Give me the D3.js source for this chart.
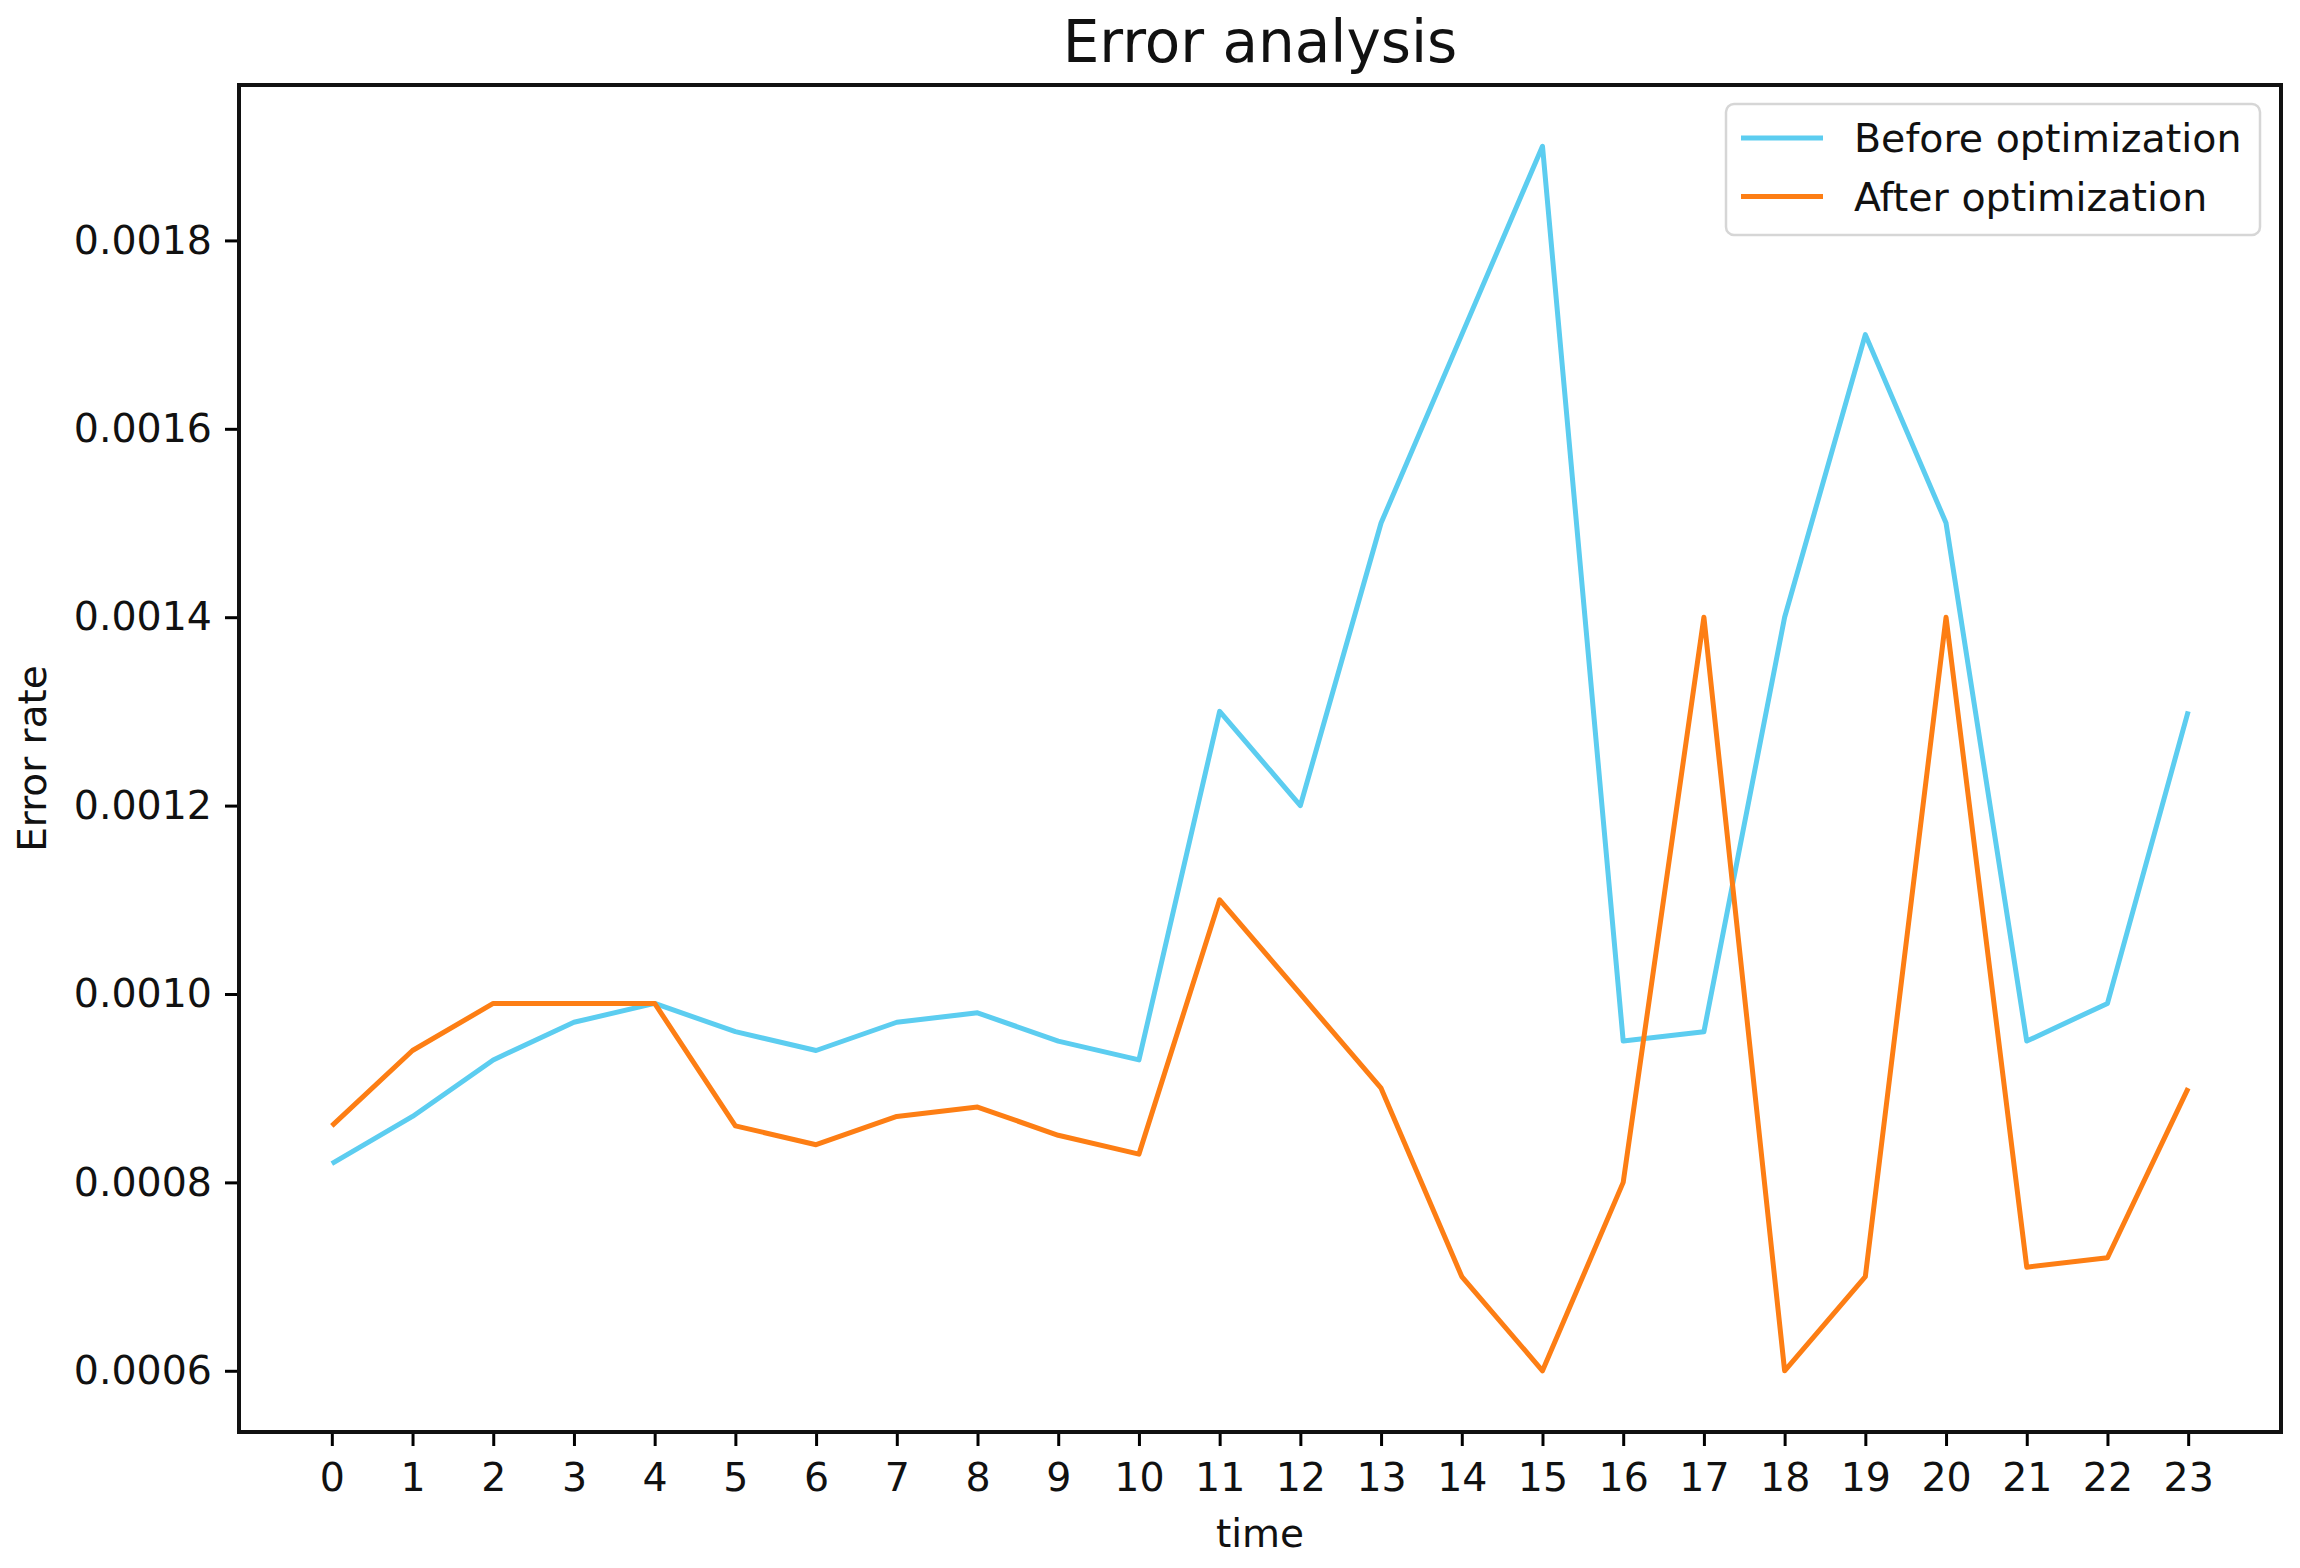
<!DOCTYPE html>
<html>
<head>
<meta charset="utf-8">
<script src="https://cdn.jsdelivr.net/npm/d3@7/dist/d3.min.js"></script>
<style>
  html, body { margin: 0; padding: 0; background: #fff; }
  svg { display: block; font-family: "DejaVu Sans", sans-serif; }
</style>
</head>
<body>
<svg></svg>
<script>
const width = 2300;
const height = 1568;

const hours = d3.range(0, 24);

const beforeValues = [
  0.00082, 0.00087, 0.00093, 0.00097, 0.00099, 0.00096, 0.00094, 0.00097,
  0.00098, 0.00095, 0.00093, 0.0013, 0.0012, 0.0015, 0.0017, 0.0019,
  0.00095, 0.00096, 0.0014, 0.0017, 0.0015, 0.00095, 0.00099, 0.0013
];

const afterValues = [
  0.00086, 0.00094, 0.00099, 0.00099, 0.00099, 0.00086, 0.00084, 0.00087,
  0.00088, 0.00085, 0.00083, 0.0011, 0.0010, 0.0009, 0.0007, 0.0006,
  0.0008, 0.0014, 0.0006, 0.0007, 0.0014, 0.00071, 0.00072, 0.0009
];

const yTicks = [0.0006, 0.0008, 0.0010, 0.0012, 0.0014, 0.0016, 0.0018];

const seriesNames = ["Before optimization", "After optimization"];
const seriesColors = ["#5ccdf0", "#fd7e14"];

const margin = {top: 85, right: 19, bottom: 136, left: 239};
const plotW = width - margin.left - margin.right;
const plotH = height - margin.top - margin.bottom;

const svg = d3.select("svg")
  .attr("width", width)
  .attr("height", height)
  .attr("viewBox", `0 0 ${width} ${height}`);

// matplotlib-style 5% margins
const x = d3.scaleLinear()
  .domain([-1.15, 24.15])
  .range([0, plotW]);

const y = d3.scaleLinear()
  .domain([0.000535, 0.001965])
  .range([plotH, 0]);

const g = svg.append("g")
  .attr("transform", `translate(${margin.left},${margin.top})`);

// lines
const line = d3.line()
  .x((d, i) => x(hours[i]))
  .y(d => y(d));

[beforeValues, afterValues].forEach((vals, k) => {
  g.append("path")
    .datum(vals)
    .attr("fill", "none")
    .attr("stroke", seriesColors[k])
    .attr("stroke-width", 5)
    .attr("stroke-linejoin", "round")
    .attr("d", line);
});

// axes
const xAxis = d3.axisBottom(x)
  .tickValues(hours)
  .tickFormat(d3.format("d"))
  .tickSize(14)
  .tickPadding(17);

const yAxis = d3.axisLeft(y)
  .tickValues(yTicks)
  .tickFormat(d3.format(".4f"))
  .tickSize(14)
  .tickPadding(13);

const gx = g.append("g")
  .attr("transform", `translate(0,${plotH})`)
  .call(xAxis);

const gy = g.append("g")
  .call(yAxis);

[gx, gy].forEach(ax => {
  ax.select(".domain").remove();
  ax.selectAll(".tick line").attr("stroke", "#000").attr("stroke-width", 3);
  ax.selectAll(".tick text")
    .attr("fill", "#111")
    .style("font-size", "39.5px")
    .style("font-family", "'DejaVu Sans', sans-serif");
});

// frame
g.append("rect")
  .attr("width", plotW)
  .attr("height", plotH)
  .attr("fill", "none")
  .attr("stroke", "#111")
  .attr("stroke-width", 4);

// title and axis labels
svg.append("text")
  .attr("x", margin.left + plotW / 2)
  .attr("y", 62)
  .attr("text-anchor", "middle")
  .style("font-size", "58px")
  .attr("fill", "#111")
  .text("Error analysis");

svg.append("text")
  .attr("x", margin.left + plotW / 2)
  .attr("y", 1547)
  .attr("text-anchor", "middle")
  .style("font-size", "39px")
  .attr("fill", "#111")
  .text("time");

svg.append("text")
  .attr("transform", `translate(46,${margin.top + plotH / 2}) rotate(-90)`)
  .attr("text-anchor", "middle")
  .style("font-size", "39px")
  .attr("fill", "#111")
  .text("Error rate");

// legend
const legend = svg.append("g")
  .attr("transform", "translate(1726,104)");

legend.append("rect")
  .attr("width", 534)
  .attr("height", 131)
  .attr("rx", 8)
  .attr("fill", "#fff")
  .attr("fill-opacity", 0.8)
  .attr("stroke", "#d6d6d6")
  .attr("stroke-width", 2.5);

const item = legend.selectAll(".legend-item")
  .data(seriesNames)
  .join("g")
  .attr("class", "legend-item")
  .attr("transform", (d, i) => `translate(0, ${34 + i * 58.5})`);

item.append("line")
  .attr("x1", 15)
  .attr("x2", 97)
  .attr("stroke", (d, i) => seriesColors[i])
  .attr("stroke-width", 5);

item.append("text")
  .attr("x", 128)
  .attr("y", 14)
  .style("font-size", "39.5px")
  .attr("fill", "#111")
  .text(d => d);
</script>
</body>
</html>
